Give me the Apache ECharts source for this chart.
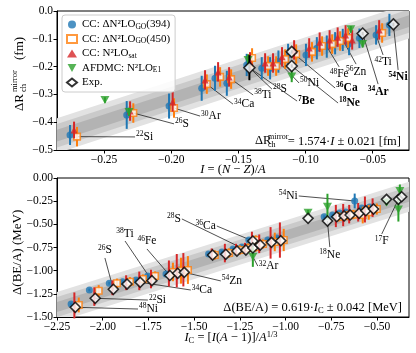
<!DOCTYPE html>
<html>
<head>
<meta charset="utf-8">
<title>Mirror nuclei trends</title>
<script src="https://cdn.jsdelivr.net/npm/echarts@6/dist/echarts.min.js"></script>
<style>body{margin:0;background:#fff;}</style>
</head>
<body>
<div id="main" style="width:416px;height:353px;"></div>
<script type="text/javascript">
// ---- top panel: charge radius difference vs I = (N-Z)/A ----
var topBlueI = [-0.2753,-0.2331,-0.2016,-0.1773,-0.1674,-0.1586,-0.1438,-0.1326,-0.1264,-0.1202,-0.1130,-0.0997,-0.0916,-0.0842,-0.0780,-0.0723,-0.0676,-0.0599,-0.0475,-0.0376];
var topBlueV = [-0.446,-0.374,-0.342,-0.278,-0.242,-0.260,-0.194,-0.206,-0.206,-0.182,-0.158,-0.158,-0.134,-0.128,-0.116,-0.104,-0.119,-0.098,-0.086,-0.050];
var topBlueErr = [0.036,0.05,0.045,0.045,0.045,0.045,0.04,0.04,0.04,0.04,0.04,0.04,0.04,0.04,0.04,0.04,0.04,0.035,0.035,0.04];

var topOrangeI = [-0.2701,-0.2282,-0.1979,-0.1735,-0.1636,-0.1554,-0.1398,-0.1279,-0.1219,-0.1152,-0.1070,-0.0952,-0.0877,-0.0802,-0.0743,-0.0683,-0.0430];
var topOrangeV = [-0.452,-0.367,-0.349,-0.263,-0.237,-0.245,-0.169,-0.198,-0.198,-0.173,-0.155,-0.147,-0.126,-0.119,-0.108,-0.097,-0.079];
var topOrangeErr = [0.035,0.035,0.035,0.035,0.035,0.035,0.035,0.035,0.035,0.035,0.035,0.035,0.035,0.035,0.035,0.035,0.035];

var topRedI = [-0.2723,-0.2306,-0.1989,-0.1748,-0.1651,-0.1569,-0.1413,-0.1301,-0.1242,-0.1175,-0.1085,-0.0973,-0.0895,-0.0821,-0.0761,-0.0702,-0.0653,-0.0452];
var topRedV = [-0.428,-0.360,-0.327,-0.248,-0.219,-0.237,-0.183,-0.187,-0.187,-0.165,-0.140,-0.133,-0.112,-0.104,-0.094,-0.086,-0.104,-0.068];
var topRedErr = [0.03,0.035,0.035,0.035,0.035,0.035,0.035,0.035,0.035,0.035,0.035,0.035,0.035,0.035,0.035,0.035,0.035,0.035];

var topGreenI = [-0.2493,-0.2314,-0.1428,-0.1103,-0.0663,-0.0575];
var topGreenV = [-0.320,-0.363,-0.176,-0.236,-0.066,-0.119];
var topGreenErr = [0.01,0.015,0.02,0.02,0.012,0.012];

var topExpI = [-0.1418,-0.1103,-0.1103,-0.0575,-0.0346];
var topExpV = [-0.204,-0.147,-0.198,-0.081,-0.048];
var topExpErr = [0.045,0.006,0.006,0.006,0.006];

// ---- bottom panel: binding energy per nucleon difference vs I_C ----
var botBlueI = [-2.173,-2.073,-1.964,-1.891,-1.818,-1.754,-1.654,-1.612,-1.578,-1.421,-1.348,-1.288,-1.239,-1.201,-1.206,-1.163,-1.097,-1.048,-0.789,-0.743,-0.704,-0.671,-0.622,-0.583,-0.540];
var botBlueV = [-1.360,-1.209,-1.136,-1.119,-1.101,-1.058,-1.036,-1.014,-0.993,-0.820,-0.799,-0.766,-0.745,-0.669,-0.745,-0.701,-0.669,-0.647,-0.418,-0.400,-0.378,-0.367,-0.248,-0.324,-0.313];
var botBlueErr = [0.015,0.015,0.015,0.015,0.015,0.015,0.015,0.015,0.015,0.015,0.015,0.015,0.015,0.015,0.015,0.015,0.015,0.015,0.015,0.015,0.015,0.015,0.08,0.015,0.015];

var botOrangeI = [-2.131,-2.022,-1.922,-1.851,-1.780,-1.714,-1.616,-1.572,-1.534,-1.387,-1.310,-1.250,-1.206,-1.163,-1.163,-1.124,-1.059,-1.010,-0.709,-0.662,-0.630,-0.578,-0.545,-0.501];
var botOrangeV = [-1.370,-1.216,-1.136,-1.119,-1.090,-1.058,-1.014,-1.000,-0.993,-0.831,-0.809,-0.777,-0.755,-0.669,-0.745,-0.712,-0.690,-0.669,-0.420,-0.405,-0.395,-0.400,-0.370,-0.335];
var botOrangeErr = [0.08,0.06,0.05,0.05,0.05,0.05,0.1,0.14,0.15,0.05,0.05,0.05,0.05,0.05,0.05,0.05,0.1,0.12,0.05,0.05,0.05,0.09,0.08,0.06];

var botRedI = [-2.155,-2.046,-1.947,-1.872,-1.800,-1.736,-1.638,-1.595,-1.559,-1.404,-1.332,-1.271,-1.222,-1.184,-1.144,-1.082,-1.031,-0.725,-0.685,-0.652,-0.603,-0.566,-0.524];
var botRedV = [-1.375,-1.280,-1.185,-1.130,-1.110,-1.090,-1.030,-1.000,-0.990,-0.820,-0.810,-0.770,-0.760,-0.680,-0.710,-0.700,-0.670,-0.410,-0.400,-0.390,-0.370,-0.340,-0.320];
var botRedErr = [0.14,0.1,0.08,0.08,0.1,0.1,0.14,0.18,0.18,0.06,0.1,0.06,0.06,0.1,0.1,0.17,0.19,0.12,0.12,0.1,0.1,0.14,0.1];

var botGreenI = [-1.179,-0.877,-0.771,-0.448,-0.375,-0.383];
var botGreenV = [-0.849,-0.374,-0.310,-0.265,-0.140,-0.340];
var botGreenErr = [0.11,0.03,0.14,0.03,0.07,0.13];

var botExpI = [-2.150,-2.041,-1.942,-1.867,-1.795,-1.731,-1.633,-1.590,-1.554,-1.399,-1.327,-1.266,-1.217,-1.179,-1.179,-1.139,-1.077,-1.026,-0.877,-0.771,-0.720,-0.680,-0.647,-0.598,-0.561,-0.519,-0.448,-0.383,-0.365];
var botExpV = [-1.395,-1.298,-1.201,-1.144,-1.125,-1.108,-1.052,-1.028,-1.018,-0.831,-0.823,-0.788,-0.777,-0.680,-0.755,-0.723,-0.694,-0.677,-0.435,-0.464,-0.418,-0.410,-0.399,-0.381,-0.353,-0.335,-0.230,-0.230,-0.202];

// linear fits: slope and sigma
var topSlope = 1.574, topSigma = 0.021;
var botSlope = 0.619, botSigma = 0.054;

// tick labels
var topXTicks = [-0.25,-0.20,-0.15,-0.10,-0.05];
var botXTicks = [-2.25,-2.00,-1.75,-1.50,-1.25,-1.00,-0.75,-0.50];

// nucleus labels: [element, mass, pointX, pointY, textX, textY, side, bold]
var topNotes = [
    ['Si','22',-0.2701,-0.452,-0.2269,-0.453,'r',0],
    ['S','26',-0.2282,-0.367,-0.1979,-0.406,'r',0],
    ['Ar','30',-0.1979,-0.349,-0.1785,-0.378,'r',0],
    ['Ca','34',-0.1735,-0.263,-0.1540,-0.335,'r',0],
    ['Ti','38',-0.1554,-0.245,-0.1390,-0.302,'r',0],
    ['S','28',-0.1418,-0.204,-0.1250,-0.281,'r',0],
    ['Be','7',-0.1418,-0.204,-0.1063,-0.324,'r',1],
    ['Ni','50',-0.1202,-0.182,-0.1048,-0.259,'r',0],
    ['Ca','36',-0.1103,-0.147,-0.0780,-0.277,'r',1],
    ['Ne','18',-0.1103,-0.198,-0.0758,-0.331,'r',1],
    ['Fe','48',-0.0842,-0.128,-0.0750,-0.201,'t',0],
    ['Zn','56',-0.0723,-0.104,-0.0624,-0.191,'t',0],
    ['Ar','34',-0.0575,-0.081,-0.0460,-0.263,'t',1],
    ['Ti','42',-0.0475,-0.086,-0.0423,-0.158,'t',0],
    ['Ni','54',-0.0346,-0.048,-0.0311,-0.212,'t',1]
];
var botNotes = [
    ['Ni','48',-2.150,-1.395,-1.807,-1.414,'r',0],
    ['Si','22',-2.041,-1.298,-1.753,-1.317,'r',0],
    ['S','26',-1.942,-1.201,-1.988,-0.863,'b',0],
    ['Ti','38',-1.731,-1.108,-1.878,-0.680,'b',0],
    ['Fe','46',-1.633,-1.052,-1.758,-0.766,'b',0],
    ['Ca','34',-1.795,-1.125,-1.518,-1.209,'r',0],
    ['Zn','54',-1.554,-1.018,-1.354,-1.111,'r',0],
    ['S','28',-1.217,-0.777,-1.567,-0.442,'l',0],
    ['Ca','36',-1.179,-0.680,-1.376,-0.518,'l',0],
    ['Ar','32',-1.179,-0.849,-1.152,-0.950,'r',0],
    ['Ni','54',-0.622,-0.248,-0.928,-0.194,'l',0],
    ['Ne','18',-0.771,-0.464,-0.758,-0.745,'t',0],
    ['F','17',-0.383,-0.230,-0.474,-0.604,'t',0]
];

var FONT = '"Liberation Serif", "DejaVu Serif", serif';
var BLUE = '#1f77b4', ORANGE = '#ff7f0e', RED = '#d62728', GREEN = '#2ca02c';
var DOWN = 'path://M0,0L10,0L5,9Z';
var names = ['blue', 'orange', 'red', 'green', 'exp'];
var legendText = {
    blue: 'CC: ΔN²LO{s|GO}(394)',
    orange: 'CC: ΔN²LO{s|GO}(450)',
    red: 'CC: N²LO{s|sat}',
    green: 'AFDMC: N²LO{s|E1}',
    exp: 'Exp.'
};

var myChart = echarts.init(document.getElementById('main'));

function pairs(xs, ys) {
    return xs.map(function (x, i) { return [x, ys[i]]; });
}

function band(ax, slope, half, x0, x1, color, z) {
    return {
        type: 'custom', xAxisIndex: ax, yAxisIndex: ax, z: z, clip: true, silent: true,
        data: [[x0, slope * x0]], encode: {x: 0, y: 1},
        renderItem: function (params, api) {
            var pts = [api.coord([x0, slope * x0 + half]), api.coord([x1, slope * x1 + half]),
                       api.coord([x1, slope * x1 - half]), api.coord([x0, slope * x0 - half])];
            return {type: 'polygon', shape: {points: pts}, style: {fill: color}};
        }
    };
}

function errBars(ax, xs, ys, es, color, width, z) {
    return {
        type: 'custom', xAxisIndex: ax, yAxisIndex: ax, z: z, silent: true,
        data: xs.map(function (x, i) { return [x, ys[i], es[i]]; }),
        encode: {x: 0, y: 1},
        renderItem: function (params, api) {
            var p = api.coord([api.value(0), api.value(1) + api.value(2)]);
            var q = api.coord([api.value(0), api.value(1) - api.value(2)]);
            return {type: 'line', shape: {x1: p[0], y1: p[1], x2: q[0], y2: q[1]},
                    style: {stroke: color, lineWidth: width}};
        }
    };
}

function marks(ax, name, xs, ys, sym, size, style, z) {
    return {type: 'scatter', name: name, xAxisIndex: ax, yAxisIndex: ax, z: z, silent: true,
            symbol: sym, symbolSize: size, itemStyle: style, data: pairs(xs, ys)};
}

function notes(ax, list, z) {
    return {
        type: 'custom', xAxisIndex: ax, yAxisIndex: ax, z: z, silent: true,
        data: list.map(function (n) { return [n[2], n[3]]; }), encode: {x: 0, y: 1},
        renderItem: function (params, api) {
            var n = list[params.dataIndex];
            var p = api.coord([n[2], n[3]]), a = api.coord([n[4], n[5]]);
            var side = n[6];
            var w = n[7] ? 'bold' : 'normal';
            return {type: 'group', children: [
                {type: 'line', shape: {x1: p[0], y1: p[1], x2: a[0], y2: a[1]},
                 style: {stroke: '#222', lineWidth: 0.8}},
                {type: 'text',
                 x: a[0] + (side === 'r' ? 1 : side === 'l' ? -1 : 0),
                 y: a[1] + (side === 't' ? 1 : side === 'b' ? -1 : 0),
                 style: {
                     text: '{m|' + n[1] + '}{e|' + n[0] + '}',
                     align: side === 'r' ? 'left' : side === 'l' ? 'right' : 'center',
                     verticalAlign: side === 't' ? 'top' : side === 'b' ? 'bottom' : 'middle',
                     fill: '#000',
                     rich: {
                         m: {fontSize: 7.5, fontFamily: FONT, fontWeight: w, fill: '#000', verticalAlign: 'top', lineHeight: 13},
                         e: {fontSize: 11.5, fontFamily: FONT, fontWeight: w, fill: '#000', lineHeight: 13}
                     }
                 }}
            ]};
        }
    };
}

function fmt(d) {
    return function (v) { return v.toFixed(d).replace('-', '\u2212'); };
}

function xAxisOf(idx, min, max, ticks) {
    return {
        type: 'value', gridIndex: idx, min: min, max: max,
        axisLine: {show: true, onZero: false, lineStyle: {color: '#000', width: 1}},
        axisTick: {show: true, length: 3.5, customValues: ticks, lineStyle: {color: '#000'}},
        axisLabel: {customValues: ticks, formatter: fmt(2), color: '#000', fontFamily: FONT, fontSize: 11.5, margin: 4},
        splitLine: {show: false}
    };
}

function yAxisOf(idx, min, max, step, d) {
    return {
        type: 'value', gridIndex: idx, min: min, max: max, interval: step,
        axisLine: {show: true, onZero: false, lineStyle: {color: '#000', width: 1}},
        axisTick: {show: true, length: 3.5, lineStyle: {color: '#000'}},
        axisLabel: {formatter: fmt(d), color: '#000', fontFamily: FONT, fontSize: 11.5, margin: 4},
        splitLine: {show: false}
    };
}

var series = [];
[[0, topSlope, topSigma, -0.285, -0.023], [1, botSlope, botSigma, -2.25, -0.325]].forEach(function (b) {
    series.push(band(b[0], b[1], 3 * b[2], b[3], b[4], '#e2e2e2', 1));
    series.push(band(b[0], b[1], 2 * b[2], b[3], b[4], '#cacaca', 1));
    series.push(band(b[0], b[1], b[2], b[3], b[4], '#b3b3b3', 1));
});
series.push(notes(0, topNotes, 2), notes(1, botNotes, 2));

// top panel data
series.push(errBars(0, topBlueI, topBlueV, topBlueErr, BLUE, 2, 3));
series.push(marks(0, 'blue', topBlueI, topBlueV, 'circle', 7, {color: BLUE}, 4));
series.push(errBars(0, topOrangeI, topOrangeV, topOrangeErr, ORANGE, 2, 5));
series.push(marks(0, 'orange', topOrangeI, topOrangeV, 'rect', 6.5, {color: '#fff', borderColor: ORANGE, borderWidth: 1.6}, 6));
series.push(errBars(0, topRedI, topRedV, topRedErr, RED, 2, 7));
series.push(marks(0, 'red', topRedI, topRedV, 'triangle', 7, {color: RED}, 8));
series.push(errBars(0, topGreenI, topGreenV, topGreenErr, GREEN, 2, 9));
series.push(marks(0, 'green', topGreenI, topGreenV, DOWN, [9, 8], {color: GREEN}, 10));
series.push(errBars(0, topExpI, topExpV, topExpErr, '#000', 2, 11));
series.push(marks(0, 'exp', topExpI, topExpV, 'diamond', 11, {color: '#fff', borderColor: '#000', borderWidth: 1.6}, 12));

// bottom panel data
series.push(errBars(1, botBlueI, botBlueV, botBlueErr, BLUE, 2, 3));
series.push(marks(1, 'blue', botBlueI, botBlueV, 'circle', 7, {color: BLUE}, 4));
series.push(errBars(1, botOrangeI, botOrangeV, botOrangeErr, ORANGE, 2, 5));
series.push(marks(1, 'orange', botOrangeI, botOrangeV, 'rect', 6.5, {color: '#fff', borderColor: ORANGE, borderWidth: 1.6}, 6));
series.push(errBars(1, botRedI, botRedV, botRedErr, RED, 2, 7));
series.push(errBars(1, botGreenI, botGreenV, botGreenErr, GREEN, 2, 9));
series.push(marks(1, 'green', botGreenI, botGreenV, DOWN, [9, 8], {color: GREEN}, 10));
series.push(marks(1, 'exp', botExpI, botExpV, 'diamond', 10, {color: '#fff', borderColor: '#000', borderWidth: 1.6}, 12));

var small = {fontFamily: FONT, fontSize: 8.5, fill: '#000'};
function txt(x, y, s, size, extra) {
    var st = {text: s, fontFamily: FONT, fontSize: size, fill: '#000', verticalAlign: 'middle', align: 'left'};
    for (var k in extra) st[k] = extra[k];
    return {type: 'text', x: x, y: y, style: st};
}
var richItalic = {
    i: {fontFamily: FONT, fontSize: 12.5, fontStyle: 'italic', fill: '#000'},
    s: {fontFamily: FONT, fontSize: 8.5, fill: '#000', padding: [6, 0, 0, 0]},
    p: {fontFamily: FONT, fontSize: 8.5, fill: '#000', padding: [0, 0, 6, 0]}
};

var option = {
    animation: false,
    backgroundColor: '#fff',
    grid: [
        {left: 57, top: 11, width: 352, height: 139, show: true, borderColor: '#000', borderWidth: 1},
        {left: 57, top: 178, width: 352, height: 139, show: true, borderColor: '#000', borderWidth: 1}
    ],
    xAxis: [xAxisOf(0, -0.285, -0.023, topXTicks), xAxisOf(1, -2.25, -0.325, botXTicks)],
    yAxis: [yAxisOf(0, -0.5, 0, 0.1, 1), yAxisOf(1, -1.5, 0, 0.25, 2)],
    legend: {
        data: names, orient: 'vertical', left: 62, top: 15, z: 30,
        itemWidth: 10, itemHeight: 8, itemGap: 1.5,
        padding: [3, 5, 3, 4],
        backgroundColor: 'rgba(255,255,255,0.85)', borderColor: '#cccccc', borderWidth: 1, borderRadius: 3,
        formatter: function (n) { return legendText[n]; },
        textStyle: {
            fontFamily: FONT, fontSize: 11, color: '#000', lineHeight: 13,
            rich: {s: {fontFamily: FONT, fontSize: 7.5, color: '#000', padding: [5, 0, 0, 0]}}
        }
    },
    graphic: [
        {type: 'group', x: 20, y: 111, rotation: Math.PI / 2, children: [
            txt(0, 0, 'ΔR', 13),
            txt(19, -5, 'mirror', 8.5),
            txt(19, 4, 'ch', 8.5),
            txt(51, 0, '(fm)', 13)
        ]},
        {type: 'group', x: 18, y: 295, rotation: Math.PI / 2, children: [
            txt(0, 0, 'Δ(BE/A) (MeV)', 13)
        ]},
        txt(233, 170, '{i|I} = ({i|N} − {i|Z})/{i|A}', 12.5, {align: 'center', rich: richItalic}),
        txt(231, 338, '{i|I}{s|C} = [{i|I}({i|A} − 1)]/{i|A}{p|1/3}', 12.5, {align: 'center', rich: richItalic}),
        txt(255, 141, 'ΔR', 12.5),
        txt(268, 137, 'mirror', 8),
        txt(268, 145, 'ch', 8),
        txt(401, 141.5, '= 1.574·{i|I} ± 0.021 [fm]', 12.5, {align: 'right', rich: richItalic}),
        txt(402, 308, 'Δ(BE/A) = 0.619·{i|I}{s|C} ± 0.042 [MeV]', 12.5, {align: 'right', rich: richItalic})
    ],
    series: series
};

myChart.setOption(option);
</script>
</body>
</html>
